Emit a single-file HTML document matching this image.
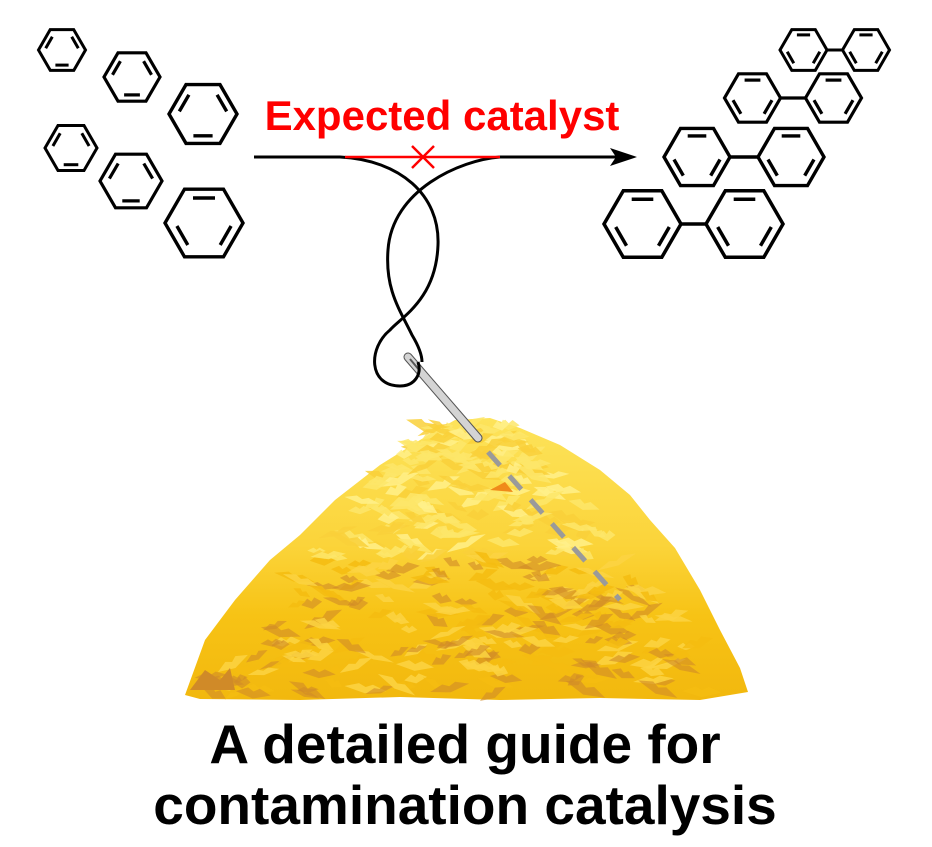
<!DOCTYPE html>
<html><head><meta charset="utf-8"><style>
html,body{margin:0;padding:0;background:#fff;width:932px;height:847px;overflow:hidden}
svg{display:block}
</style></head><body>
<svg width="932" height="847" viewBox="0 0 932 847" xmlns="http://www.w3.org/2000/svg">
<defs>
<linearGradient id="hay" x1="0" y1="0" x2="0" y2="1">
<stop offset="0" stop-color="#fde35a"/>
<stop offset="0.45" stop-color="#fbd43a"/>
<stop offset="0.7" stop-color="#f7c315"/>
<stop offset="1" stop-color="#f2b80e"/>
</linearGradient>
</defs>
<g id="mol" fill="none" stroke="#000" stroke-width="3.4"></g>

<!-- haystack -->
<path d="M185,695 L205,640 L235,600 L270,560 L300,535 L335,500 L380,465 L420,440 L455,420 L490,418 L520,428 L560,445 L600,470 L630,495 L650,520 L675,548 L700,590 L720,630 L740,668 L748,692 L700,700 L600,698 L500,700 L400,697 L300,700 L200,699 Z" fill="url(#hay)"/>
<g id="leaves"></g>
<path d="M190,690 l15,-20 l15,10 l10,-12 l5,22 Z" fill="#d08a28"/>
<path d="M490,490 l15,-8 l8,10 Z" fill="#f08a1a"/>
<!-- needle -->
<line x1="408" y1="357" x2="478" y2="438" stroke="#555" stroke-width="9" stroke-linecap="round"/>
<line x1="408" y1="357" x2="478" y2="438" stroke="#d4d4d4" stroke-width="7" stroke-linecap="round"/>
<line x1="488" y1="452" x2="620" y2="600" stroke="#9a9a9a" stroke-width="5" stroke-dasharray="18,14"/>
<line x1="410" y1="359" x2="420" y2="371" stroke="#555" stroke-width="2"/>

<!-- thread -->
<g fill="none" stroke="#000" stroke-width="3">
<path d="M254,157 L340,157 C400,160 440,195 438,245 C436,300 400,318 390,330 C368,348 368,386 400,386 C415,386 422,374 418,362"/>
<path d="M500,157 C460,160 392,190 388,250 C385,290 400,310 412,335 C418,345 422,355 422,362"/>
<line x1="500" y1="157" x2="622" y2="157"/>
</g>
<polygon points="637,157 610,148 616,157 610,166" fill="#000"/>
<g stroke="#f00" stroke-width="2.5">
<line x1="345" y1="157" x2="500" y2="157"/>
<line x1="412" y1="146" x2="434" y2="168"/>
<line x1="434" y1="146" x2="412" y2="168"/>
</g>
<text x="442" y="130" text-anchor="middle" font-family="Liberation Sans, sans-serif" font-weight="bold" font-size="42" fill="#f00">Expected catalyst</text>
<text x="465" y="763" text-anchor="middle" font-family="Liberation Sans, sans-serif" font-weight="bold" font-size="55" fill="#000">A detailed guide for</text>
<text x="465" y="824" text-anchor="middle" font-family="Liberation Sans, sans-serif" font-weight="bold" font-size="55" fill="#000">contamination catalysis</text>
</svg>
<script>
(function(){
var ns="http://www.w3.org/2000/svg";
var g=document.getElementById("mol");
function hex(cx,cy,r,bonds,sw){
 var p=[];for(var i=0;i<6;i++){var a=Math.PI/3*i;p.push([cx+r*Math.cos(a),cy+r*Math.sin(a)]);}
 var pg=document.createElementNS(ns,"polygon");
 pg.setAttribute("points",p.map(function(q){return q[0].toFixed(1)+","+q[1].toFixed(1)}).join(" "));
 pg.setAttribute("stroke-width",sw);g.appendChild(pg);
 bonds.forEach(function(k){
  var A=p[k],B=p[(k+1)%6],f=0.74,s=0.12;
  var ax=cx+(A[0]-cx)*f,ay=cy+(A[1]-cy)*f,bx=cx+(B[0]-cx)*f,by=cy+(B[1]-cy)*f;
  var dx=bx-ax,dy=by-ay;
  var l=document.createElementNS(ns,"line");
  l.setAttribute("x1",(ax+dx*s).toFixed(1));l.setAttribute("y1",(ay+dy*s).toFixed(1));
  l.setAttribute("x2",(bx-dx*s).toFixed(1));l.setAttribute("y2",(by-dy*s).toFixed(1));
  l.setAttribute("stroke-width",sw);g.appendChild(l);
 });
}
var B=[1,3,5];
hex(62,50,23.5,B,3);hex(132,77,28,B,3.2);hex(203,114,34,B,3.4);
hex(71,148,26,B,3);hex(131,181,31,B,3.2);hex(204,223,39,[4,0,2],3.4);
function biph(c1,c2,cy,r,sw){
 hex(c1,cy,r,[4,2,0],sw);hex(c2,cy,r,[4,2,0],sw);
 var l=document.createElementNS(ns,"line");
 l.setAttribute("x1",c1+r);l.setAttribute("y1",cy);l.setAttribute("x2",c2-r);l.setAttribute("y2",cy);
 l.setAttribute("stroke-width",sw);g.appendChild(l);
}
biph(803.5,866,50,23.5,3);biph(752.5,833.5,98,28,3.2);biph(697,791,157,33,3.4);biph(642.5,744.5,224,38.5,3.5);
// leaves
var L=document.getElementById("leaves");var seed=7;
function rnd(){seed=(seed*16807)%2147483647;return seed/2147483647;}
for(var i=0;i<420;i++){
 var y=425+rnd()*270;var t=(y-418)/280;
 var half=40+t*240;var x=470+(rnd()*2-1)*half;
 var c;var r=rnd();
 if(t<0.5)c=r<0.5?"#fde66a":(r<0.8?"#f9d03a":"#fff08a");
 else c=r<0.35?"#d08a28":(r<0.7?"#f5bc10":"#fbd443");
 var w=8+rnd()*14,h=3+rnd()*3,a=-30+rnd()*60;
 var e=document.createElementNS(ns,"path");
 e.setAttribute("d","M"+(-w)+",0 L"+(-w/3)+","+(-h)+" L0,"+(-h/3)+" L"+(w/3)+","+(-h)+" L"+w+",0 L0,"+h+" Z");
 e.setAttribute("fill",c);e.setAttribute("opacity",t>0.5&&c=="#d08a28"?0.6:0.85);
 e.setAttribute("transform","translate("+x.toFixed(1)+","+y.toFixed(1)+") rotate("+a.toFixed(0)+")");
 L.appendChild(e);
}
})();
</script>
</body></html>
